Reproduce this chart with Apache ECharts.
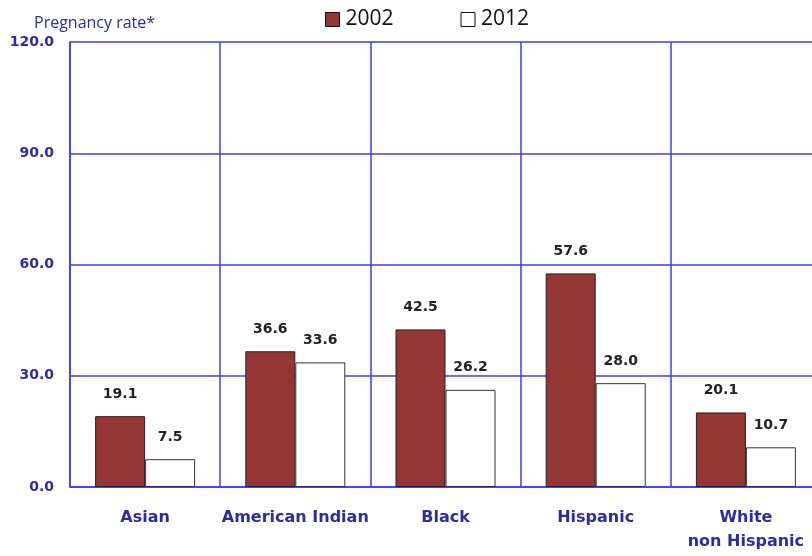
<!DOCTYPE html>
<html><head><meta charset="utf-8">
<script src="https://cdn.jsdelivr.net/npm/echarts@6/dist/echarts.min.js"></script>
<style>html,body{margin:0;padding:0;background:#fff}#c{width:812px;height:556px}</style>
</head><body><div id="c"></div>
<script>
const categories = ['Asian', 'American Indian', 'Black', 'Hispanic', 'White\nnon Hispanic'];
const seriesNames = ['2002', '2012'];
const values2002 = [19.1, 36.6, 42.5, 57.6, 20.1];
const values2012 = [7.5, 33.6, 26.2, 28.0, 10.7];
const yTicks = [0, 30, 60, 90, 120];

const blue = '#3a3aff';
const labelBlue = '#2c2ca6';
const chart = echarts.init(document.getElementById('c'), null, {renderer: 'canvas'});
chart.setOption({
  animation: false,
  backgroundColor: '#fff',
  title: {
    text: 'Pregnancy rate*', left: 29, top: 10,
    textStyle: {fontFamily: 'Open Sans', fontSize: 16, fontWeight: 'normal', color: labelBlue}
  },
  legend: {
    data: [
      {name: seriesNames[0], itemStyle: {color: '#943634', borderColor: '#111', borderWidth: 1}},
      {name: seriesNames[1], itemStyle: {color: '#fff', borderColor: '#111', borderWidth: 1}}
    ],
    left: 320, top: 4, itemWidth: 14, itemHeight: 14, itemGap: 67,
    icon: 'rect',
    textStyle: {fontFamily: 'Open Sans', fontSize: 21, color: '#111', padding: [0, 0, 0, 1]}
  },
  grid: {left: 70, top: 42, width: 751, height: 445, containLabel: false, outerBoundsMode: 'none'},
  xAxis: {
    type: 'category', data: categories,
    axisLine: {show: true, lineStyle: {color: blue, width: 1.5}},
    axisTick: {show: false},
    splitLine: {show: true, lineStyle: {color: blue, width: 1.5}},
    axisLabel: {fontFamily: 'DejaVu Sans', fontWeight: 'bold', fontSize: 16, color: labelBlue, margin: 19, lineHeight: 24, interval: 0}
  },
  yAxis: {
    type: 'value', min: yTicks[0], max: yTicks[yTicks.length - 1], interval: 30,
    axisLine: {show: true, lineStyle: {color: blue, width: 1.5}},
    axisTick: {show: false},
    splitLine: {show: true, lineStyle: {color: blue, width: 1.5}},
    axisLabel: {fontFamily: 'DejaVu Sans', fontWeight: 'bold', fontSize: 14, color: labelBlue, margin: 16,
      formatter: v => v.toFixed(1)}
  },
  series: [
    {
      name: seriesNames[0], type: 'bar', data: values2002, barWidth: 50, barGap: '0%',
      itemStyle: {color: '#943634', borderColor: '#222', borderWidth: 1},
      label: {show: true, position: 'top', distance: 15, fontFamily: 'DejaVu Sans', fontWeight: 'bold', fontSize: 14, color: '#222',
        formatter: p => p.value.toFixed(1)}
    },
    {
      name: seriesNames[1], type: 'bar', data: values2012, barWidth: 50, barGap: '0%',
      itemStyle: {color: '#fff', borderColor: '#333', borderWidth: 1},
      label: {show: true, position: 'top', distance: 15, fontFamily: 'DejaVu Sans', fontWeight: 'bold', fontSize: 14, color: '#222',
        formatter: p => p.value.toFixed(1)}
    }
  ]
});
</script></body></html>
